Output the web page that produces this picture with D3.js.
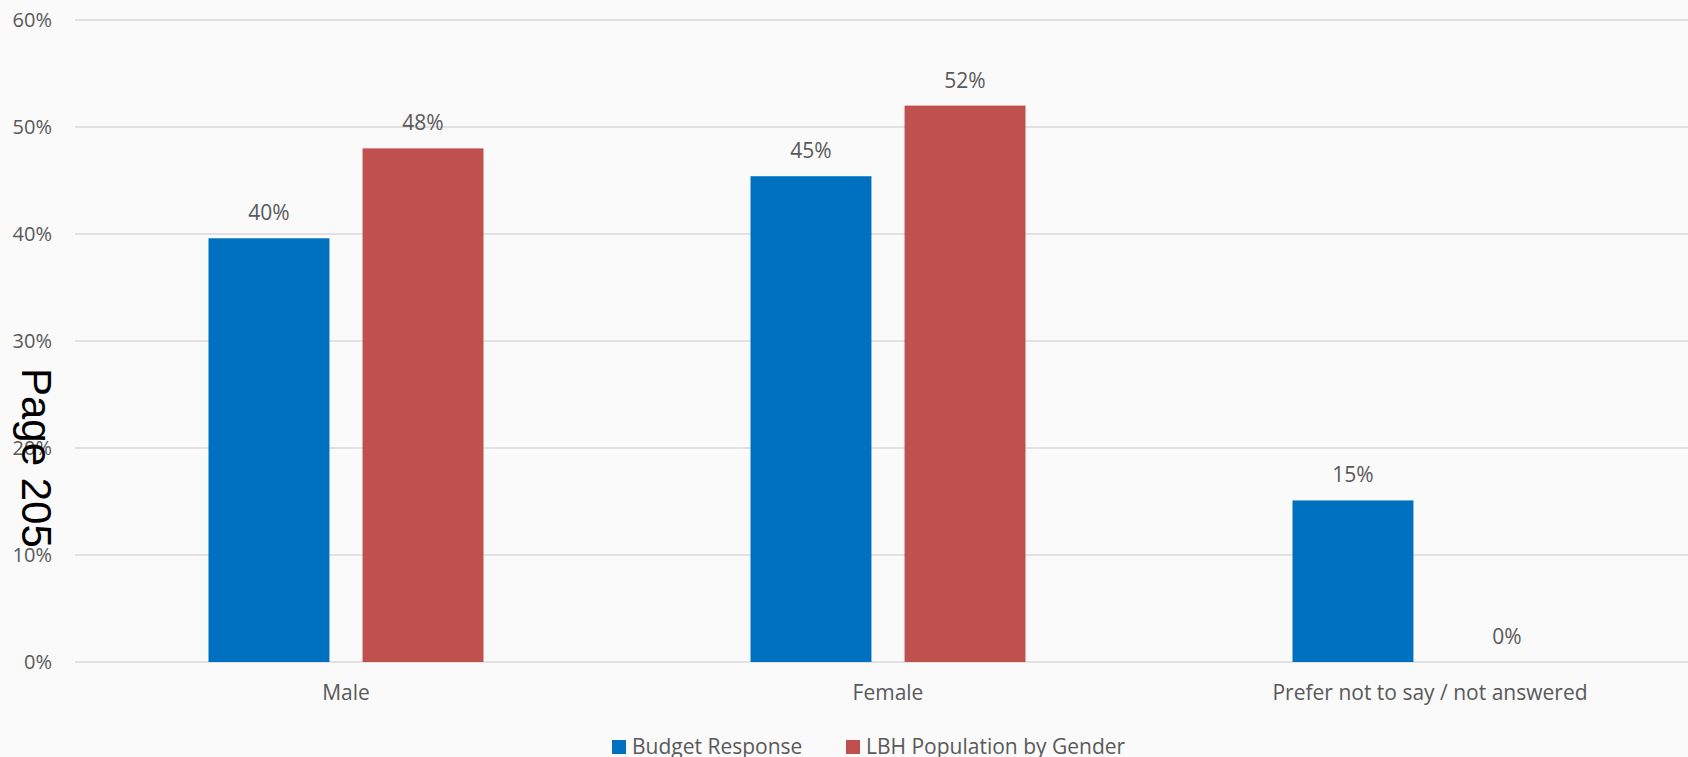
<!DOCTYPE html>
<html>
<head>
<meta charset="utf-8">
<script src="https://cdn.jsdelivr.net/npm/d3@7"></script>
<style>
  html, body { margin: 0; padding: 0; background: #fafafa; overflow: hidden; }
  text { font-family: "Open Sans", "Noto Sans", sans-serif; fill: #595959; }
</style>
</head>
<body>
<script>
// Chart data
const categories = ["Male", "Female", "Prefer not to say / not answered"];
const seriesNames = ["Budget Response", "LBH Population by Gender"];
const budgetResponse = [39.6, 45.4, 15.1];
const lbhPopulation = [48, 52, 0];
const valueLabels = [["40%", "45%", "15%"], ["48%", "52%", "0%"]];
const yTicks = [0, 10, 20, 30, 40, 50, 60];
const colors = ["#0070c0", "#c0504d"];

const width = 1688, height = 757;

const svg = d3.select("body")
    .append("svg")
    .attr("width", width)
    .attr("height", height);

// Scales
const x = d3.scaleBand()
    .domain(categories)
    .range([75, 1701])
    .paddingInner(0)
    .paddingOuter(0);

const xInner = d3.scaleBand()
    .domain(seriesNames)
    .range([133.5, 542 - 133.5])
    .paddingInner(0.215);

const y = d3.scaleLinear()
    .domain([0, 60])
    .range([662, 20]);

// Gridlines
svg.append("g")
    .selectAll("line")
    .data(yTicks)
    .enter().append("line")
    .attr("x1", 75)
    .attr("x2", width)
    .attr("y1", d => y(d))
    .attr("y2", d => y(d))
    .attr("stroke", "#d9d9d9")
    .attr("stroke-width", 1.5);

// Y axis labels
svg.append("g")
    .selectAll("text")
    .data(yTicks)
    .enter().append("text")
    .attr("x", 52)
    .attr("y", d => y(d) + 7)
    .attr("text-anchor", "end")
    .style("font-size", "20px")
    .text(d => d + "%");

// Bars
const series = [budgetResponse, lbhPopulation];
series.forEach((values, s) => {
    const g = svg.append("g");
    g.selectAll("rect")
        .data(values)
        .enter().append("rect")
        .attr("x", (d, i) => x(categories[i]) + xInner(seriesNames[s]))
        .attr("width", xInner.bandwidth())
        .attr("y", d => y(d))
        .attr("height", d => y(0) - y(d))
        .attr("fill", colors[s]);

    g.selectAll("text")
        .data(values)
        .enter().append("text")
        .attr("x", (d, i) => x(categories[i]) + xInner(seriesNames[s]) + xInner.bandwidth() / 2)
        .attr("y", d => y(d) - 18)
        .attr("text-anchor", "middle")
        .style("font-size", "21px")
        .text((d, i) => valueLabels[s][i]);
});

// Category labels
svg.append("g")
    .selectAll("text")
    .data(categories)
    .enter().append("text")
    .attr("x", d => x(d) + x.bandwidth() / 2)
    .attr("y", 700)
    .attr("text-anchor", "middle")
    .style("font-size", "21px")
    .text(d => d);

// Legend
const legendX = [612, 846];
const legend = svg.append("g")
    .selectAll("g")
    .data(seriesNames)
    .enter().append("g")
    .attr("transform", (d, i) => `translate(${legendX[i]},740)`);

legend.append("rect")
    .attr("width", 14)
    .attr("height", 14)
    .attr("fill", (d, i) => colors[i]);

legend.append("text")
    .attr("x", 20)
    .attr("y", 14)
    .style("font-size", "21px")
    .text(d => d);

// Page stamp
svg.append("text")
    .attr("transform", "translate(22,368) rotate(90)")
    .style("font-family", "'Liberation Sans', Arial, sans-serif")
    .style("font-size", "42px")
    .style("fill", "#000")
    .text("Page 205");
</script>
</body>
</html>
